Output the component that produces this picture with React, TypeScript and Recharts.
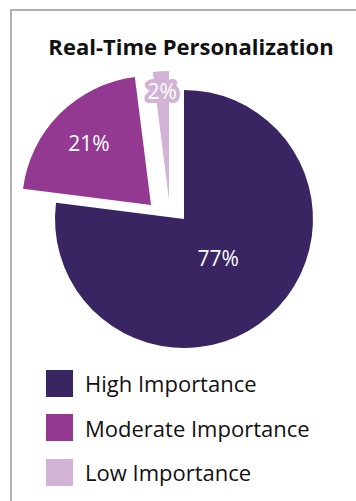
import { PieChart, Pie, Cell, Legend } from 'recharts'

const categories = ['High Importance', 'Moderate Importance', 'Low Importance']
const shares = [77, 21, 2]

const colors = ['#3a2563', '#943991', '#d2b3d5']
// each slice drawn on its own layer, pulled out from the centre like the original
const explode = [
  [0, 0],
  [-33, -14],
  [-15, -19],
]
const labelRadius = [0.4, 0.68, 0.85]

const W = 356
const H = 501
const CX = 184
const CY = 219
const R = 129
const RAD = Math.PI / 180

const data = categories.map((name, i) => ({ name, value: shares[i] }))

function makeLabel(layer: number) {
  return (p: any) => {
    if (p.index !== layer) return null
    const r = p.outerRadius * labelRadius[layer]
    const x = p.cx + r * Math.cos(-p.midAngle * RAD)
    const y = p.cy + r * Math.sin(-p.midAngle * RAD)
    // thin slice: give the label a halo in the slice colour so it stays readable
    const small = p.percent < 0.05
    return (
      <text
        x={x}
        y={y}
        textAnchor="middle"
        dominantBaseline="central"
        fill="#ffffff"
        stroke={small ? colors[layer] : 'none'}
        strokeWidth={small ? 8 : 0}
        strokeLinejoin="round"
        paintOrder="stroke"
        fontSize={21}
        fontFamily="'Open Sans', sans-serif"
      >
        {`${p.value}%`}
      </text>
    )
  }
}

function LegendBox() {
  return (
    <div style={{ fontFamily: "'Open Sans', sans-serif" }}>
      {categories.map((c, i) => (
        <div key={c} style={{ display: 'flex', alignItems: 'center', height: 44.5 }}>
          <div style={{ width: 27, height: 27, background: colors[i], marginRight: 12 }} />
          <span style={{ fontSize: 22, color: '#111' }}>{c}</span>
        </div>
      ))}
    </div>
  )
}

export default function App() {
  return (
    <div style={{ position: 'absolute', left: 0, top: 0, width: W, height: H, background: '#fff', overflow: 'hidden' }}>
      {/* frame: only top + left edges show */}
      <div style={{ position: 'absolute', left: 10, top: 9, right: 0, bottom: 0, borderTop: '2px solid #b0b0b0', borderLeft: '2px solid #b0b0b0' }} />

      <div
        style={{
          position: 'absolute', left: 0, width: 382, top: 31,
          textAlign: 'center', fontFamily: "'Open Sans', sans-serif",
          fontWeight: 700, fontSize: 22, color: '#111', whiteSpace: 'nowrap',
        }}
      >
        Real-Time Personalization
      </div>

      <div style={{ position: 'absolute', left: 0, top: 0 }}>
        <PieChart width={W} height={H} margin={{ top: 0, right: 0, bottom: 0, left: 0 }}>
          {explode.map(([dx, dy], k) => (
            <Pie
              key={k}
              data={data}
              dataKey="value"
              nameKey="name"
              cx={CX + dx}
              cy={CY + dy}
              outerRadius={R}
              startAngle={90}
              endAngle={-270}
              stroke="none"
              labelLine={false}
              label={makeLabel(k)}
              isAnimationActive={false}
            >
              {data.map((d, i) => (
                <Cell key={d.name} fill={i === k ? colors[i] : 'transparent'} />
              ))}
            </Pie>
          ))}
          <Legend
            layout="horizontal"
            verticalAlign="bottom"
            align="left"
            wrapperStyle={{ left: 46, top: 361, bottom: 'auto', width: 300 }}
            content={() => <LegendBox />}
          />
        </PieChart>
      </div>
    </div>
  )
}
